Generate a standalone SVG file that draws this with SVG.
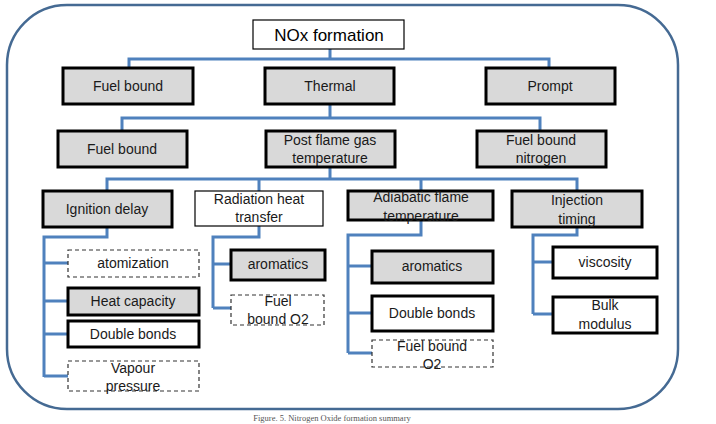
<svg xmlns="http://www.w3.org/2000/svg" width="716" height="424" viewBox="0 0 716 424">
<style>
.frame{fill:#fff;stroke:#456a93;stroke-width:2.5}
.con{fill:none;stroke:#4f81bd;stroke-width:3;stroke-linejoin:miter}
.heavy{stroke:#000;stroke-width:3}
.gray{fill:#d9d9d9}
.white{fill:#fff}
.thin{fill:#fff;stroke:#000;stroke-width:1.2}
.dash{fill:#fff;stroke:#333;stroke-width:1.2;stroke-dasharray:4 3}
text{font-family:"Liberation Sans",Arial,sans-serif;font-size:14px;fill:#1a1a1a;text-anchor:middle}
.title{font-size:17px;fill:#000}
.cap{font-family:"Liberation Serif","Times New Roman",serif;font-size:8.5px;fill:#555}
</style>
<rect width="716" height="424" fill="#fff"/>
<rect class="frame" x="7" y="5" width="671" height="404" rx="60" ry="60"/>
<g id="connectors">
<path class="con" d="M330 49V59M129 68V59H549V68"/>
<path class="con" d="M330 104V118M122 131V118H540V131"/>
<path class="con" d="M330 167V179M107 191V179H577V191M259 179V191M421 179V191"/>
<path class="con" d="M107 228V237H44V377M44 263H68M44 301H68M44 334H68M44 376H68"/>
<path class="con" d="M259 226V237H213V308M213 264H231M213 308H231"/>
<path class="con" d="M421 220V235H348V353M348 266H372M348 313H372M348 353H372"/>
<path class="con" d="M577 227V235H533V314M533 262H553M533 314H553"/>
</g>
<g id="n-nox"><rect class="thin" x="253" y="20" width="151" height="29"/><text class="title" x="329" y="41">NOx formation</text></g>
<g id="n-fuel1"><rect class="gray heavy" x="63" y="68" width="130" height="36"/><text x="128" y="91">Fuel bound</text></g>
<g id="n-thermal"><rect class="gray heavy" x="265" y="68" width="129" height="36"/><text x="330" y="91">Thermal</text></g>
<g id="n-prompt"><rect class="gray heavy" x="486" y="68" width="129" height="36"/><text x="550" y="91">Prompt</text></g>
<g id="n-fuel2"><rect class="gray heavy" x="58" y="131" width="129" height="36"/><text x="122" y="154">Fuel bound</text></g>
<g id="n-post"><rect class="gray heavy" x="266" y="131" width="129" height="36"/><text x="330" y="145">Post flame gas</text><text x="330" y="163">temperature</text></g>
<g id="n-fbn"><rect class="gray heavy" x="477" y="131" width="129" height="36"/><text x="541" y="145">Fuel bound</text><text x="541" y="163">nitrogen</text></g>
<g id="n-ign"><rect class="gray heavy" x="43" y="191" width="129" height="36"/><text x="107" y="214">Ignition delay</text></g>
<g id="n-rad"><rect class="thin" x="195" y="191" width="128" height="35"/><text x="259" y="204">Radiation heat</text><text x="259" y="222">transfer</text></g>
<g id="n-adia"><rect class="gray heavy" x="348" y="191" width="145" height="29"/><text x="421" y="202">Adiabatic flame</text><text x="421" y="221">temperature</text></g>
<g id="n-inj"><rect class="gray heavy" x="512" y="191" width="130" height="36"/><text x="577" y="205">Injection</text><text x="577" y="224">timing</text></g>
<g id="n-atom"><rect class="dash" x="68" y="250" width="131" height="27"/><text x="133" y="268">atomization</text></g>
<g id="n-heat"><rect class="gray heavy" x="68" y="288" width="131" height="27"/><text x="133" y="306">Heat capacity</text></g>
<g id="n-db1"><rect class="white heavy" x="68" y="321" width="131" height="26"/><text x="133" y="339">Double bonds</text></g>
<g id="n-vap"><rect class="dash" x="68" y="361" width="131" height="30"/><text x="133" y="373">Vapour</text><text x="133" y="391">pressure</text></g>
<g id="n-aro1"><rect class="gray heavy" x="231" y="250" width="94" height="30"/><text x="278" y="269">aromatics</text></g>
<g id="n-fbo1"><rect class="dash" x="231" y="295" width="93" height="30"/><text x="278" y="306">Fuel</text><text x="278" y="324">bound O2</text></g>
<g id="n-aro2"><rect class="gray heavy" x="372" y="251" width="121" height="32"/><text x="432" y="271">aromatics</text></g>
<g id="n-db2"><rect class="white heavy" x="372" y="296" width="121" height="35"/><text x="432" y="318">Double bonds</text></g>
<g id="n-fbo2"><rect class="dash" x="372" y="340" width="121" height="27"/><text x="432" y="351">Fuel bound</text><text x="432" y="369">O2</text></g>
<g id="n-visc"><rect class="white heavy" x="553" y="247" width="104" height="31"/><text x="605" y="267">viscosity</text></g>
<g id="n-bulk"><rect class="white heavy" x="553" y="297" width="104" height="36"/><text x="605" y="310">Bulk</text><text x="605" y="329">modulus</text></g>
<text class="cap" x="332" y="421">Figure. 5. Nitrogen Oxide formation summary</text>
</svg>
